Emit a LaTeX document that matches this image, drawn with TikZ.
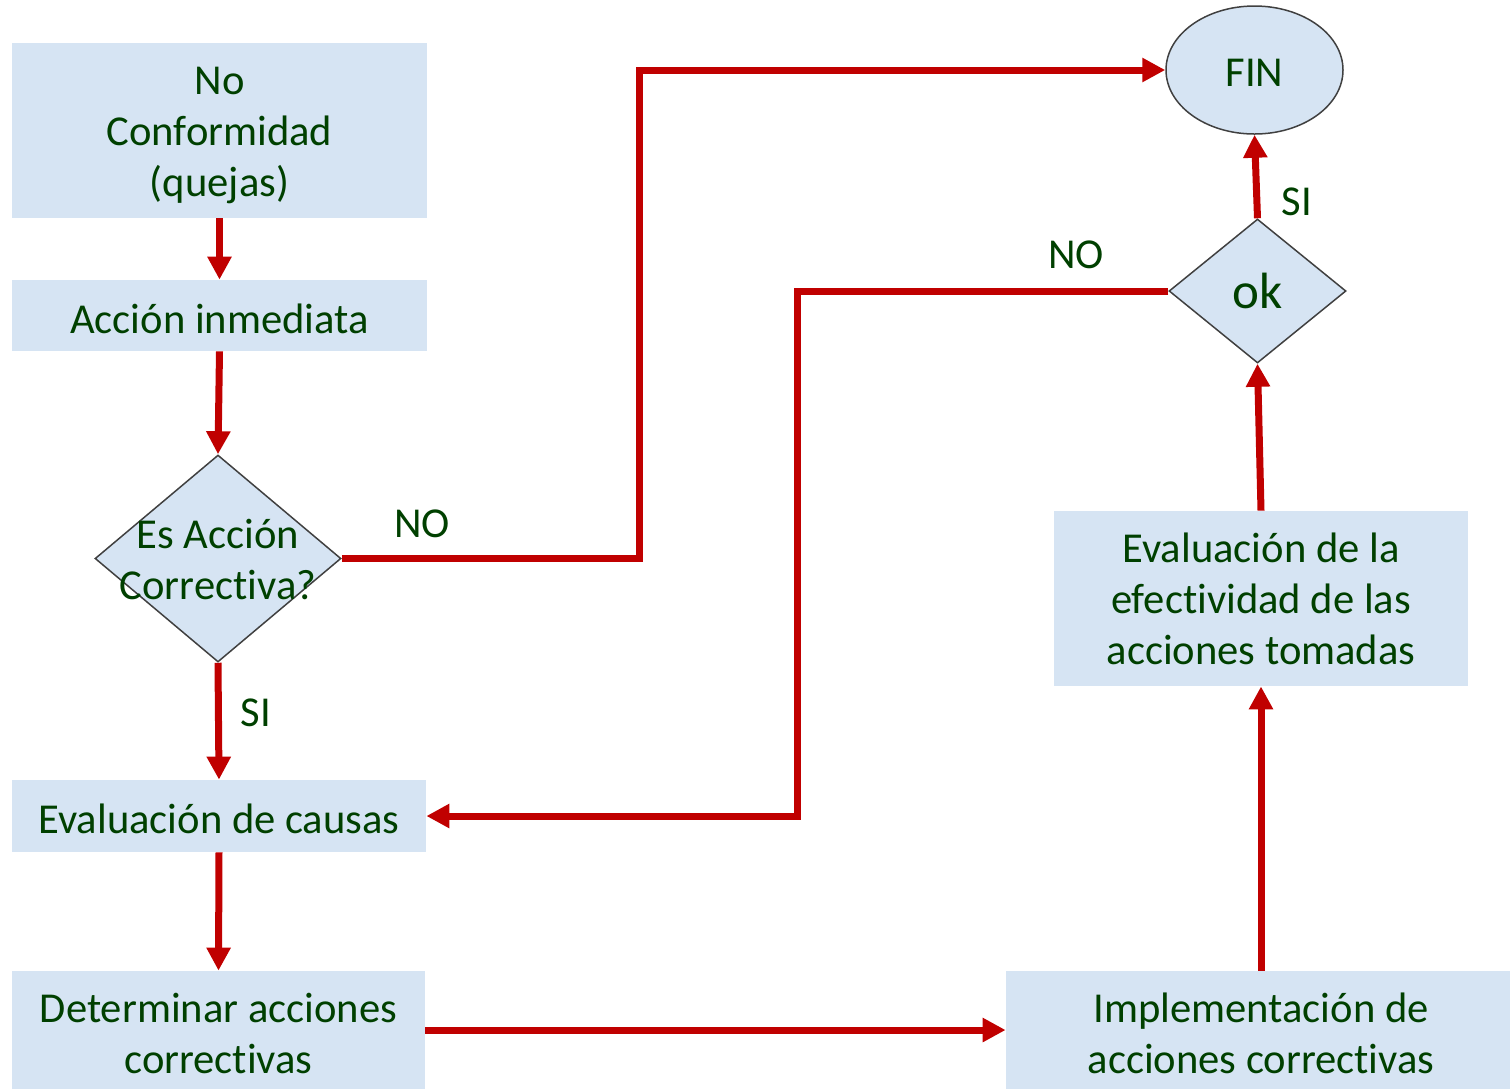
\documentclass[tikz,border=0pt]{standalone}
\usepackage{fontspec}
\setmainfont{Carlito}[Ligatures=NoCommon]
\usetikzlibrary{arrows.meta,shapes.geometric}
\definecolor{boxblue}{RGB}{214,228,243}
\definecolor{txtgreen}{RGB}{0,64,0}
\definecolor{flowred}{RGB}{192,0,0}
\definecolor{edgegray}{RGB}{64,64,64}

\begin{document}
\begin{tikzpicture}[x=0.5pt,y=-0.5pt,
  every node/.style={text=txtgreen,font=\fontsize{21.3}{25.5}\selectfont},
  stepbox/.style={fill=boxblue,draw=none,inner sep=0pt},
  boxtext/.style={inner sep=0pt,align=center,yshift=-1.5pt},
  decision/.style={diamond,fill=boxblue,draw=edgegray,line width=0.75pt,inner sep=0pt},
  terminal/.style={ellipse,fill=boxblue,draw=edgegray,line width=0.75pt,inner sep=0pt},
  flow/.style={draw=flowred,line width=3.5pt,-{Triangle[length=11.5pt,width=11.5pt]}},
  lbl/.style={inner sep=0pt}]
\useasboundingbox (0,0) rectangle (1510,1089);

% process boxes
\node[stepbox,minimum width=207.5pt,minimum height=87.5pt] (b1) at (219.5,130.5) {};
\node[boxtext] (b1t) at (219.5,132) {No\\Conformidad\\(quejas)};
\node[stepbox,minimum width=207.5pt,minimum height=35.5pt] (b2) at (219.5,315.5) {};
\node[boxtext] (b2t) at (b2) {Acción inmediata};
\node[stepbox,minimum width=207pt,minimum height=36pt] (b3) at (219,816) {};
\node[boxtext] (b3t) at (b3) {Evaluación de causas};
\node[stepbox,minimum width=206.5pt,minimum height=59pt] (b4) at (218.5,1030) {};
\node[boxtext] (b4t) at (b4) {Determinar acciones\\correctivas};
\node[stepbox,minimum width=252pt,minimum height=59pt] (b5) at (1258,1030) {};
\node[boxtext] (b5t) at (1261,1030) {Implementación de\\acciones correctivas};
\node[stepbox,minimum width=207pt,minimum height=87.5pt] (b6) at (1261,598.5) {};
\node[boxtext] (b6t) at (1261,596) {Evaluación de la\\efectividad de las\\acciones tomadas};

% decisions and end
\node[decision,minimum width=123pt,minimum height=103.5pt] (d1) at (218,558.5) {};
\node[boxtext] (d1t) at (218,556) {Es Acción\\Correctiva?};
\node[decision,minimum width=88.5pt,minimum height=72pt,font=\fontsize{25.5}{30}\selectfont] (d2) at (1257.5,291) {ok};
\node[terminal,minimum width=88.5pt,minimum height=64pt] (fin) at (1254.5,70) {};
\node[boxtext] (fint) at (1254.5,70) {FIN};

% routing columns
\coordinate (c1) at (639,300);
\coordinate (c2) at (797,500);

% connectors
\draw[flow] (b1.south) -- (b2.north);
\draw[flow] (b2.south) -- (d1.north);
\draw[flow] (d1.south) -- (b3.north);
\draw[flow] (b3.south) -- (b4.north);
\draw[flow] (b4.east) -- (b5.west);
\draw[flow] (b6.south |- b5.north) -- (b6.south);
\draw[flow] (b6.north) -- (d2.south);
\draw[flow] (d2.north) -- (fin.south);
\draw[flow] (d1.east) -- (d1.east -| c1) |- (fin.west);
\draw[flow] (d2.west) -- (d2.west -| c2) |- (b3.east);

% branch labels
\node[lbl] (l1) at (422,524) {NO};
\node[lbl] (l2) at (256,713) {SI};
\node[lbl] (l3) at (1076,255) {NO};
\node[lbl] (l4) at (1297,202) {SI};
\end{tikzpicture}
\end{document}
